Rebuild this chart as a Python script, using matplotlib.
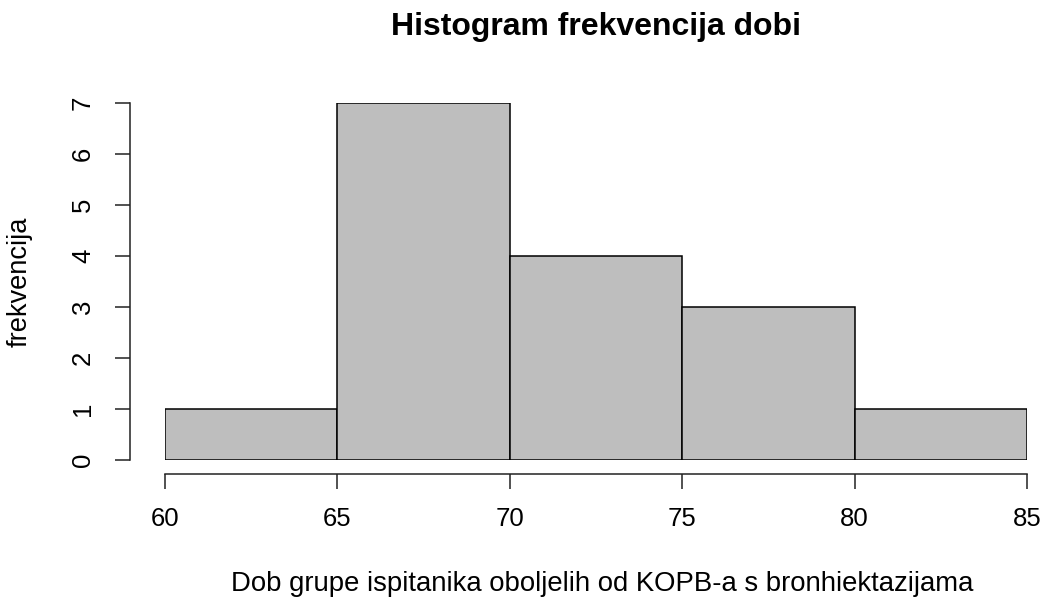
import matplotlib
matplotlib.use("Agg")
import matplotlib.pyplot as plt

# podaci histograma (granice razreda i frekvencije)
bin_edges = [60, 65, 70, 75, 80, 85]
counts = [1, 7, 4, 3, 1]
y_ticks = [0, 1, 2, 3, 4, 5, 6, 7]

title = "Histogram frekvencija dobi"
x_label = "Dob grupe ispitanika oboljelih od KOPB-a s bronhiektazijama"
y_label = "frekvencija"

plt.rcParams['font.family'] = ['Liberation Sans', 'DejaVu Sans']

W, H = 1045, 607
fig = plt.figure(figsize=(W / 100, H / 100), dpi=100)
px = 0.72  # 1 px u pt

ax = fig.add_axes([165 / W, (H - 460) / H, 862 / W, 357 / H])
widths = [b - a for a, b in zip(bin_edges[:-1], bin_edges[1:])]
ax.bar(bin_edges[:-1], counts, width=widths, align='edge',
       color='#bebebe', edgecolor='black', linewidth=1.1)
ax.set_xlim(bin_edges[0], bin_edges[-1])
ax.set_ylim(0, max(counts))

for s in ['top', 'right']:
    ax.spines[s].set_visible(False)
ax.spines['bottom'].set_position(('outward', 14 * px))
ax.spines['left'].set_position(('outward', 35 * px))
ax.spines['bottom'].set_bounds(bin_edges[0], bin_edges[-1])
ax.spines['left'].set_bounds(0, max(counts))
for s in ['bottom', 'left']:
    ax.spines[s].set_linewidth(1.1)
    ax.spines[s].set_color('#222222')

ax.set_xticks(bin_edges)
ax.set_yticks(y_ticks)
ax.tick_params(axis='x', length=15 * px, width=1.1, pad=18 * px, labelsize=18.5,
               color='#222222')
ax.tick_params(axis='y', length=15 * px, width=1.1, pad=20 * px, labelsize=18.5,
               color='#222222')
for lab in ax.get_yticklabels():
    lab.set_rotation(90)
    lab.set_va('center')

fig.text(596 / W, 1 - 27 / H, title, ha='center', va='center',
         fontsize=23, fontweight='bold')
fig.text(602 / W, 1 - 584 / H, x_label, ha='center', va='center', fontsize=19.8)
fig.text(20 / W, 1 - 282 / H, y_label, ha='center', va='center', fontsize=19.6,
         rotation=90)

fig.savefig("out.png", dpi=100)
